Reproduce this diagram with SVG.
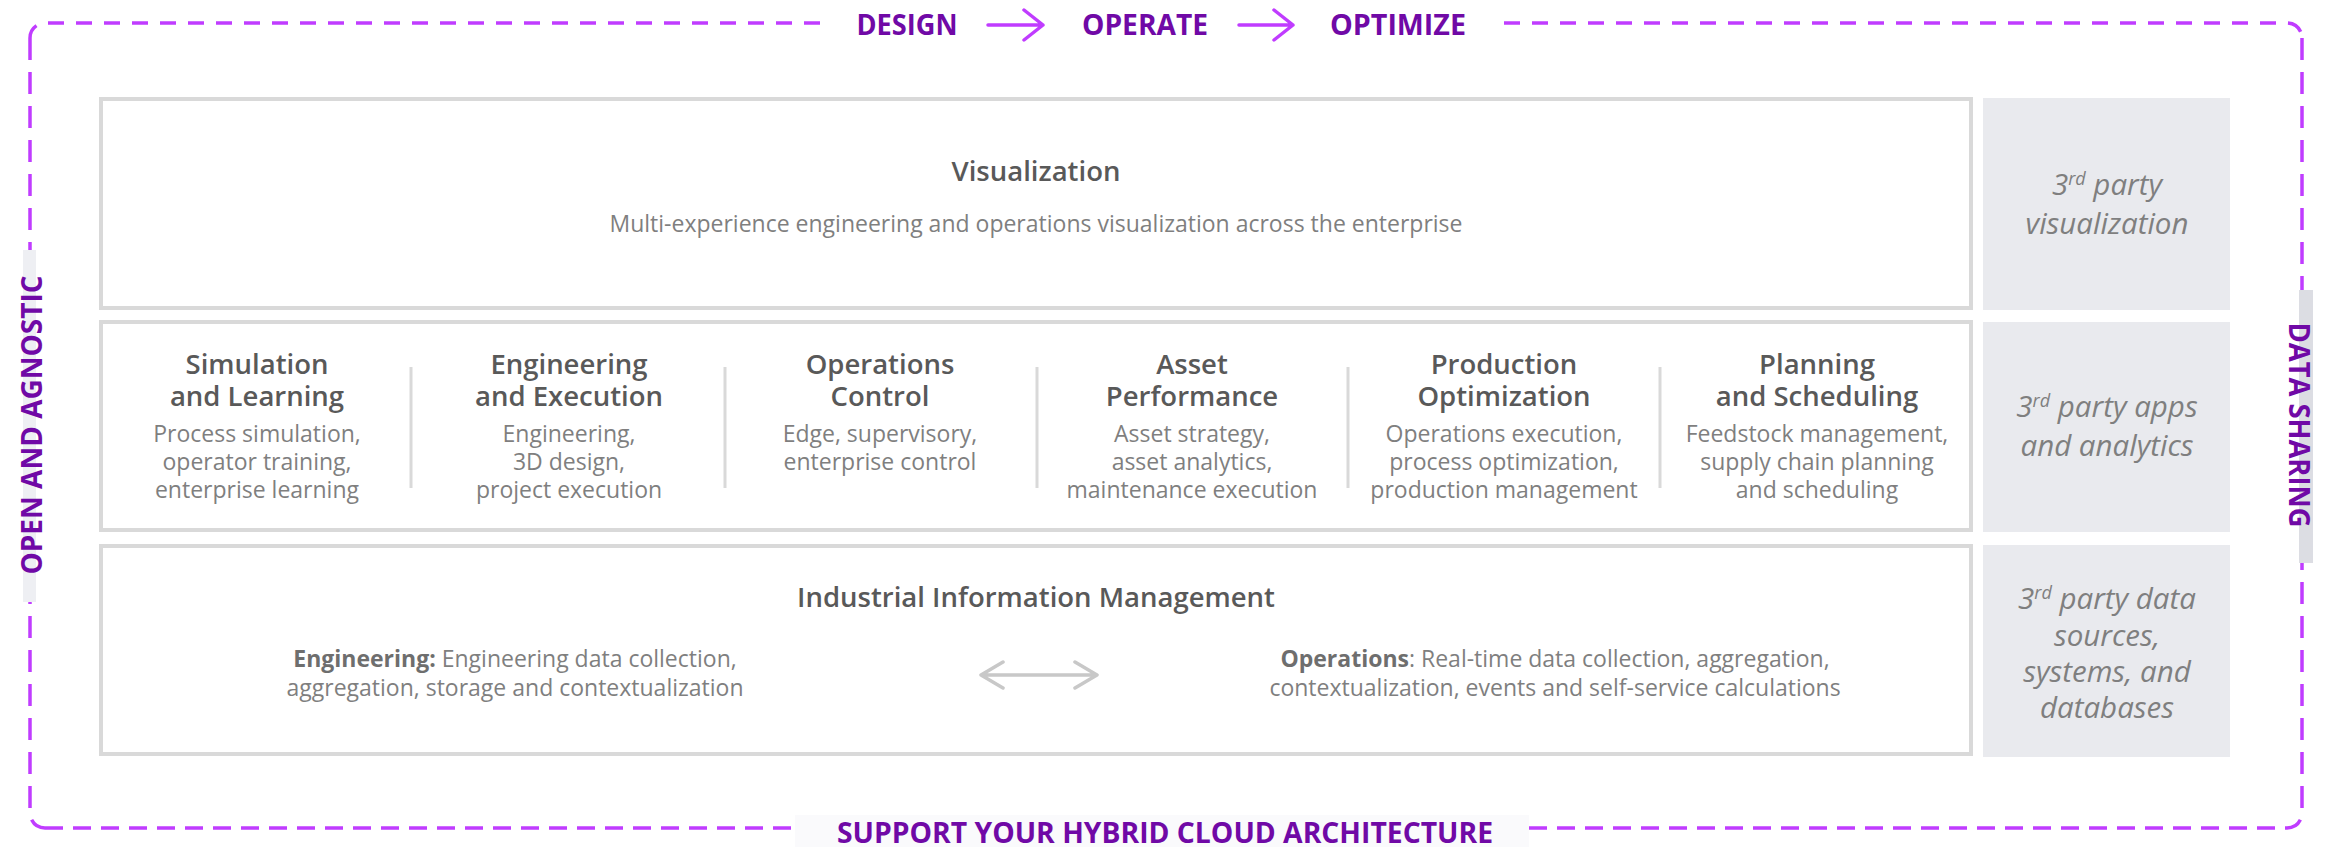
<svg xmlns="http://www.w3.org/2000/svg" width="2328" height="847" viewBox="0 0 2328 847">
<style>
.box{fill:#FFFFFF;stroke:#D9D9D9;stroke-width:4}
.tp{fill:#E9EAEE}
.sep{stroke:#D9D9D9;stroke-width:3}
.title{font-family:"Open Sans","Liberation Sans",sans-serif;font-weight:600;font-size:27.5px;fill:#595959;text-anchor:middle}
.desc{font-family:"Open Sans","Liberation Sans",sans-serif;font-size:23px;fill:#7F7F7F;text-anchor:middle}
.tpt{font-family:"Open Sans","Liberation Sans",sans-serif;font-style:italic;font-size:29.5px;fill:#7F7F7F;text-anchor:middle}
.lbl{font-family:"Open Sans","Liberation Sans",sans-serif;font-weight:700;font-size:29px;fill:#7009A6;text-anchor:middle}
.dash{fill:none;stroke:#C03CFF;stroke-width:3.5}
.arr{fill:none;stroke:#C03CFF;stroke-width:3.5;stroke-linecap:round;stroke-linejoin:round}
.garr{fill:none;stroke:#C8C8C8;stroke-width:3.5;stroke-linecap:round;stroke-linejoin:round}
.b{font-weight:700;fill:#6E6E6E}
</style>
<rect width="2328" height="847" fill="#FFFFFF"/>

<g id="frame">
<path class="dash" d="M 820 23 H 45 A 15 15 0 0 0 30 38" stroke-dasharray="16 12"/>
<path class="dash" d="M 1504 23 H 2287 A 15 15 0 0 1 2302 38" stroke-dasharray="16 12"/>
<path class="dash" d="M 30 38 V 813 A 15 15 0 0 0 45 828" stroke-dasharray="22 12"/>
<path class="dash" d="M 2302 38 V 813 A 15 15 0 0 1 2287 828" stroke-dasharray="22 12"/>
<path class="dash" d="M 45 828 H 2287" stroke-dasharray="18 10"/>
</g>

<g id="label-top">
<text class="lbl" x="907" y="35" textLength="101" lengthAdjust="spacingAndGlyphs">DESIGN</text>
<path class="arr" d="M 988 25 H 1043 M 1024 10 L 1043 25 L 1024 40"/>
<text class="lbl" x="1145" y="35" textLength="126" lengthAdjust="spacingAndGlyphs">OPERATE</text>
<path class="arr" d="M 1239 25 H 1293 M 1274 10 L 1293 25 L 1274 40"/>
<text class="lbl" x="1398" y="35" textLength="136" lengthAdjust="spacingAndGlyphs">OPTIMIZE</text>
</g>

<g id="label-left">
<rect x="23" y="250" width="13" height="352" fill="#EEEFF3"/>
<text class="lbl" transform="translate(42 425) rotate(-90)" x="0" y="0" textLength="299" lengthAdjust="spacingAndGlyphs">OPEN AND AGNOSTIC</text>
</g>

<g id="label-right">
<rect x="2299" y="290" width="14" height="273" fill="#DCDDE3"/>
<text class="lbl" transform="translate(2289 425) rotate(90)" x="0" y="0" textLength="205" lengthAdjust="spacingAndGlyphs">DATA SHARING</text>
</g>

<g id="label-bottom">
<rect x="795" y="815" width="734" height="32" fill="#FAFAFC"/>
<text class="lbl" x="1165" y="843" textLength="656" lengthAdjust="spacingAndGlyphs">SUPPORT YOUR HYBRID CLOUD ARCHITECTURE</text>
</g>

<g id="visualization">
<rect class="box" x="101" y="99" width="1870" height="209"/>
<text class="title" x="1036" y="181">Visualization</text>
<text class="desc" x="1036" y="232">Multi-experience engineering and operations visualization across the enterprise</text>
</g>

<g id="applications">
<rect class="box" x="101" y="322" width="1870" height="208"/>
<line class="sep" x1="411" y1="367" x2="411" y2="488"/>
<line class="sep" x1="725" y1="367" x2="725" y2="488"/>
<line class="sep" x1="1037" y1="367" x2="1037" y2="488"/>
<line class="sep" x1="1348" y1="367" x2="1348" y2="488"/>
<line class="sep" x1="1660" y1="367" x2="1660" y2="488"/>
</g>

<g id="simulation-learning">
<text class="title" x="257" y="374">Simulation</text>
<text class="title" x="257" y="406">and Learning</text>
<text class="desc" x="257" y="442">Process simulation,</text>
<text class="desc" x="257" y="470">operator training,</text>
<text class="desc" x="257" y="498">enterprise learning</text>
</g>
<g id="engineering-execution">
<text class="title" x="569" y="374">Engineering</text>
<text class="title" x="569" y="406">and Execution</text>
<text class="desc" x="569" y="442">Engineering,</text>
<text class="desc" x="569" y="470">3D design,</text>
<text class="desc" x="569" y="498">project execution</text>
</g>
<g id="operations-control">
<text class="title" x="880" y="374">Operations</text>
<text class="title" x="880" y="406">Control</text>
<text class="desc" x="880" y="442">Edge, supervisory,</text>
<text class="desc" x="880" y="470">enterprise control</text>
</g>
<g id="asset-performance">
<text class="title" x="1192" y="374">Asset</text>
<text class="title" x="1192" y="406">Performance</text>
<text class="desc" x="1192" y="442">Asset strategy,</text>
<text class="desc" x="1192" y="470">asset analytics,</text>
<text class="desc" x="1192" y="498">maintenance execution</text>
</g>
<g id="production-optimization">
<text class="title" x="1504" y="374">Production</text>
<text class="title" x="1504" y="406">Optimization</text>
<text class="desc" x="1504" y="442">Operations execution,</text>
<text class="desc" x="1504" y="470">process optimization,</text>
<text class="desc" x="1504" y="498">production management</text>
</g>
<g id="planning-scheduling">
<text class="title" x="1817" y="374">Planning</text>
<text class="title" x="1817" y="406">and Scheduling</text>
<text class="desc" x="1817" y="442">Feedstock management,</text>
<text class="desc" x="1817" y="470">supply chain planning</text>
<text class="desc" x="1817" y="498">and scheduling</text>
</g>

<g id="industrial-information-management">
<rect class="box" x="101" y="546" width="1870" height="208"/>
<text class="title" x="1036" y="607">Industrial Information Management</text>
<text class="desc" x="515" y="667"><tspan class="b">Engineering:</tspan> Engineering data collection,</text>
<text class="desc" x="515" y="696">aggregation, storage and contextualization</text>
<text class="desc" x="1555" y="667"><tspan class="b">Operations</tspan>: Real-time data collection, aggregation,</text>
<text class="desc" x="1555" y="696">contextualization, events and self-service calculations</text>
</g>

<g id="connectors">
<path class="garr" d="M 981 675 H 1097 M 1003 662 L 981 675 L 1003 688 M 1075 662 L 1097 675 L 1075 688"/>
</g>

<g id="third-party-visualization">
<rect class="tp" x="1983" y="98" width="247" height="212"/>
<text class="tpt" x="2107" y="195">3<tspan dy="-10" font-size="18">rd</tspan><tspan dy="10"> party</tspan></text>
<text class="tpt" x="2107" y="234">visualization</text>
</g>
<g id="third-party-apps">
<rect class="tp" x="1983" y="322" width="247" height="210"/>
<text class="tpt" x="2107" y="417">3<tspan dy="-10" font-size="18">rd</tspan><tspan dy="10"> party apps</tspan></text>
<text class="tpt" x="2107" y="456">and analytics</text>
</g>
<g id="third-party-data">
<rect class="tp" x="1983" y="545" width="247" height="212"/>
<text class="tpt" x="2107" y="609">3<tspan dy="-10" font-size="18">rd</tspan><tspan dy="10"> party data</tspan></text>
<text class="tpt" x="2107" y="646">sources,</text>
<text class="tpt" x="2107" y="682">systems, and</text>
<text class="tpt" x="2107" y="718">databases</text>
</g>
</svg>
